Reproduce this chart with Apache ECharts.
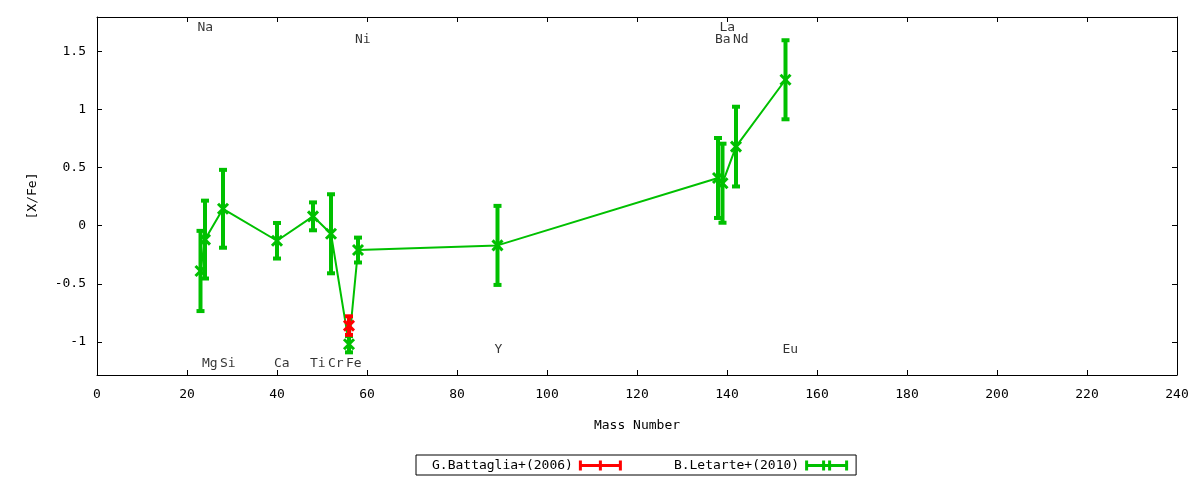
<!DOCTYPE html>
<html>
<head>
<meta charset="utf-8">
<script src="https://cdn.jsdelivr.net/npm/echarts@6/dist/echarts.min.js"></script>
<style>
html,body{margin:0;padding:0;background:#fff;}
#chart{width:1200px;height:480px;}
</style>
</head>
<body>
<div id="chart"></div>
<script>
// ---- data ----
const elements = ['Na','Mg','Si','Ca','Ti','Cr','Fe','Ni','Y','Ba','La','Nd','Eu'];
const massNumbers = [23,24,28,40,48,52,56,58,89,138,139,142,153];
const letarteValues = [-0.39,-0.12,0.145,-0.13,0.08,-0.07,-1.02,-0.21,-0.17,0.41,0.365,0.68,1.255];
const letarteErrors = [0.345,0.335,0.335,0.153,0.12,0.34,0.07,0.107,0.34,0.344,0.34,0.343,0.34];
const battagliaMass = [56];
const battagliaValues = [-0.86];
const battagliaErrors = [0.08];
const labelY = [1.7,-1.19,-1.19,-1.19,-1.19,-1.19,-1.19,1.6,-1.07,1.6,1.7,1.6,-1.07];
const xTicks = [0,20,40,60,80,100,120,140,160,180,200,220,240];
const yTicks = [-1,-0.5,0,0.5,1,1.5];

const FONT = 'DejaVu Sans Mono';
const GREEN = '#00c000';
const RED = '#ff0000';

function errRender(params, api) {
  const x = api.value(0), y = api.value(1), e = api.value(2);
  const c = api.coord([x, y]);
  const t = api.coord([x, y + e]);
  const b = api.coord([x, y - e]);
  const color = api.visual('color');
  const s = {stroke: color, lineWidth: 4, fill: null};
  const m = 5;
  return {
    type: 'group',
    children: [
      {type:'line', shape:{x1:c[0], y1:t[1], x2:c[0], y2:b[1]}, style:s},
      {type:'line', shape:{x1:c[0]-4, y1:t[1], x2:c[0]+4, y2:t[1]}, style:s},
      {type:'line', shape:{x1:c[0]-4, y1:b[1], x2:c[0]+4, y2:b[1]}, style:s},
      {type:'line', shape:{x1:c[0]-m, y1:c[1]-m, x2:c[0]+m, y2:c[1]+m}, style:{stroke:color, lineWidth:3}},
      {type:'line', shape:{x1:c[0]-m, y1:c[1]+m, x2:c[0]+m, y2:c[1]-m}, style:{stroke:color, lineWidth:3}}
    ]
  };
}

const redIcon = 'path://M0 0H3V10H0Z M40 0H43V10H40Z M20 0H23V10H20Z M0 3.5H43V6.5H0Z';
const greenIcon = 'path://M0 0H3V10H0Z M40 0H43V10H40Z M17 0H20V10H17Z M23 0H26V10H23Z M0 3.5H43V6.5H0Z';

const axisLine = {show:true, onZero:false, lineStyle:{color:'#000', width:1}};
const tickStyle = {show:true, inside:true, length:5, lineStyle:{color:'#000', width:1}};
const labelStyle = {color:'#000', fontFamily:FONT, fontSize:13};

const chart = echarts.init(document.getElementById('chart'), null, {renderer:'canvas'});
chart.setOption({
  animation: false,
  backgroundColor: '#fff',
  grid: {left:97, right:23, top:17, bottom:105, containLabel:false},
  xAxis: [
    {type:'value', min:0, max:240, interval:20, position:'bottom',
     axisLine:axisLine, axisTick:tickStyle, splitLine:{show:false},
     axisLabel:Object.assign({margin:13, customValues:xTicks}, labelStyle),
     name:'Mass Number', nameLocation:'middle', nameGap:44,
     nameTextStyle:{color:'#000', fontFamily:FONT, fontSize:13}},
    {type:'value', min:0, max:240, interval:20, position:'top',
     axisLine:axisLine, axisTick:tickStyle, splitLine:{show:false}, axisLabel:{show:false}}
  ],
  yAxis: [
    {type:'value', min:-1.285, max:1.795, position:'left',
     axisLine:axisLine, axisTick:Object.assign({customValues:yTicks}, tickStyle), splitLine:{show:false},
     axisLabel:Object.assign({margin:11, customValues:yTicks}, labelStyle),
     name:'[X/Fe]', nameLocation:'middle', nameGap:58, nameRotate:90,
     nameTextStyle:{color:'#000', fontFamily:FONT, fontSize:13}},
    {type:'value', min:-1.285, max:1.795, position:'right',
     axisLine:axisLine, axisTick:Object.assign({customValues:yTicks}, tickStyle), splitLine:{show:false},
     axisLabel:{show:false}}
  ],
  legend: {
    top: 455, left: 416,
    orient: 'horizontal',
    align: 'right',
    borderColor: '#000', borderWidth: 1, borderRadius: 0,
    padding: [4, 8, 3, 16],
    itemGap: 52,
    itemWidth: 45, itemHeight: 10,
    textStyle: {color:'#000', fontFamily:FONT, fontSize:13},
    data: [
      {name:'G.Battaglia+(2006)', icon:redIcon},
      {name:'B.Letarte+(2010)', icon:greenIcon}
    ]
  },
  series: [
    {
      name:'B.Letarte+(2010)', type:'line',
      data: massNumbers.map((m,i)=>[m, letarteValues[i]]),
      symbol:'none', color:GREEN,
      lineStyle:{color:GREEN, width:2}, z:2
    },
    {
      name:'B.Letarte+(2010)', type:'custom',
      renderItem: errRender, color:GREEN,
      data: massNumbers.map((m,i)=>[m, letarteValues[i], letarteErrors[i]]),
      encode:{x:0, y:1}, z:3
    },
    {
      name:'G.Battaglia+(2006)', type:'custom',
      renderItem: errRender, color:RED,
      data: battagliaMass.map((m,i)=>[m, battagliaValues[i], battagliaErrors[i]]),
      encode:{x:0, y:1}, z:4
    },
    {
      name:'labels', type:'scatter', silent:true,
      symbolSize:0,
      data: massNumbers.map((m,i)=>[m, labelY[i], elements[i]]),
      label:{show:true, position:[-3,0], align:'left', verticalAlign:'middle',
        formatter:p=>p.value[2], color:'#000', fontFamily:FONT, fontSize:13},
      z:5
    }
  ]
});
</script>
</body>
</html>
